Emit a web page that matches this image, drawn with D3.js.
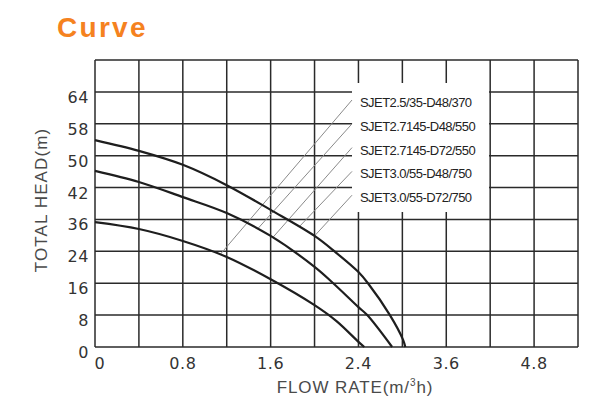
<!DOCTYPE html>
<html>
<head>
<meta charset="utf-8">
<script src="https://cdn.jsdelivr.net/npm/d3@7"></script>
<style>
  body { margin: 0; background: #fff; }
  text { font-family: "Liberation Sans", Arial, sans-serif; }
  text.ytick, text.xtick { font-family: "DejaVu Sans", sans-serif; }
</style>
</head>
<body>
<div id="chart"></div>
<script>
// tick labels (axes are not linear, each label sits on its own grid line)
var xTickLabels = [0, 0.8, 1.6, 2.4, 3.6, 4.8];
var yTickLabels = [0, 8, 16, 24, 36, 42, 50, 58, 64];

var models = ["SJET2.5/35-D48/370", "SJET2.7145-D48/550", "SJET2.7145-D72/550",
              "SJET3.0/55-D48/750", "SJET3.0/55-D72/750"];

// curves: [flow m3/h, head m]
var curveTop = [[0, 53.9], [0.4, 51.2], [0.8, 47.7], [1.2, 42.6], [1.6, 37.8], [2.0, 29.8],
                [2.19, 23.8], [2.4, 18.8], [2.53, 16], [2.83, 8], [3.01, 1.8], [3.04, 0]];
var curveMid = [[0, 46.2], [0.4, 43.4], [0.8, 40.2], [1.2, 37.2], [1.6, 29.8], [2.0, 20.1],
                [2.17, 16], [2.4, 10], [2.52, 8], [2.86, 0]];
var curveLow = [[0, 35], [0.4, 32.4], [0.8, 27.9], [1.2, 22.6], [1.6, 17], [2.0, 10.5],
                [2.2, 6.5], [2.4, 1.3], [2.48, 0]];
var curves = [curveTop, curveMid, curveLow];

// leader line of each model: which curve (index) and at what flow it leaves it
var leaderCurve = [2, 1, 1, 0, 0];
var leaderFlow = [1.14, 1.48, 1.62, 1.86, 2.0];

var width = 615, height = 412;
var gLeft = 95, gRight = 578, gTop = 60, gBottom = 347;
var nCols = 11, nRows = 9;

var gx = d3.scaleLinear().domain([0, nCols]).range([gLeft, gRight]);
var gy = d3.scaleLinear().domain([0, nRows]).range([gBottom, gTop]);

// piecewise scales: label i sits on grid line 2*i (x) / i (y)
var x = d3.scaleLinear()
    .domain(xTickLabels)
    .range(xTickLabels.map(function(d, i) { return gx(i * 2); }));
var y = d3.scaleLinear()
    .domain(yTickLabels)
    .range(yTickLabels.map(function(d, i) { return gy(i); }));

var svg = d3.select("#chart").append("svg")
    .attr("width", width)
    .attr("height", height);

svg.append("text")
    .attr("x", 57)
    .attr("y", 37)
    .attr("fill", "#f5821f")
    .attr("font-size", 28)
    .attr("font-weight", "bold")
    .attr("letter-spacing", 2.3)
    .text("Curve");

// grid
var grid = svg.append("g").attr("stroke", "#2a2a2a").attr("stroke-width", 1.5);
grid.selectAll(".vl")
    .data(d3.range(nCols + 1))
  .enter().append("line")
    .attr("class", "vl")
    .attr("x1", function(d) { return gx(d); })
    .attr("x2", function(d) { return gx(d); })
    .attr("y1", gTop)
    .attr("y2", gBottom);
grid.selectAll(".hl")
    .data(d3.range(nRows + 1))
  .enter().append("line")
    .attr("class", "hl")
    .attr("x1", gLeft)
    .attr("x2", gRight)
    .attr("y1", function(d) { return gy(d); })
    .attr("y2", function(d) { return gy(d); });

// white box behind the model names
svg.append("rect")
    .attr("x", 352)
    .attr("y", 83)
    .attr("width", 137)
    .attr("height", 129)
    .attr("fill", "#fff");

// y tick labels
svg.selectAll(".ytick")
    .data(yTickLabels)
  .enter().append("text")
    .attr("class", "ytick")
    .attr("x", 89)
    .attr("y", function(d) { return y(d) + 11; })
    .attr("text-anchor", "end")
    .attr("font-size", 16)
    .attr("letter-spacing", 0.6)
    .attr("fill", "#333")
    .text(function(d) { return d; });

// x tick labels
svg.selectAll(".xtick")
    .data(xTickLabels)
  .enter().append("text")
    .attr("class", "xtick")
    .attr("x", function(d, i) { return i == 0 ? x(d) + 5 : x(d); })
    .attr("y", 369)
    .attr("text-anchor", "middle")
    .attr("font-size", 16)
    .attr("letter-spacing", 0.6)
    .attr("fill", "#333")
    .text(function(d) { return d; });

// axis titles
svg.append("text")
    .attr("transform", "translate(47,200) rotate(-90)")
    .attr("text-anchor", "middle")
    .attr("font-size", 17)
    .attr("fill", "#4a4a4a")
    .attr("letter-spacing", 1.1)
    .text("TOTAL HEAD(m)");

var xt = svg.append("text")
    .attr("x", 355)
    .attr("y", 393)
    .attr("text-anchor", "middle")
    .attr("font-size", 17)
    .attr("fill", "#4a4a4a")
    .attr("letter-spacing", 0.9)
    .text("FLOW RATE(m/");
xt.append("tspan").attr("font-size", 10).attr("dy", -7).text("3");
xt.append("tspan").attr("dy", 7).text("h)");

// point on a curve (pixel space, linear between data points)
function onCurve(c, flow) {
  var px = x(flow);
  for (var i = 1; i < c.length; i++) {
    var x0 = x(c[i - 1][0]), x1 = x(c[i][0]);
    if (px <= x1) {
      var t = (px - x0) / (x1 - x0);
      return [px, y(c[i - 1][1]) + t * (y(c[i][1]) - y(c[i - 1][1]))];
    }
  }
  return [px, y(c[c.length - 1][1])];
}

// leader lines
var legendX = 360, legendY0 = 102, legendStep = 23.8;
svg.selectAll(".leader")
    .data(leaderFlow)
  .enter().append("line")
    .attr("class", "leader")
    .attr("x1", function(d, i) { return onCurve(curves[leaderCurve[i]], d)[0]; })
    .attr("y1", function(d, i) { return onCurve(curves[leaderCurve[i]], d)[1]; })
    .attr("x2", 352)
    .attr("y2", function(d, i) { return legendY0 + i * legendStep - 2; })
    .attr("stroke", "#8a8a8a")
    .attr("stroke-width", 1);

svg.selectAll(".model")
    .data(models)
  .enter().append("text")
    .attr("class", "model")
    .attr("x", legendX)
    .attr("y", function(d, i) { return legendY0 + i * legendStep + 5; })
    .attr("font-size", 13)
    .attr("letter-spacing", -0.55)
    .attr("fill", "#222")
    .text(function(d) { return d; });

// curves
var line = d3.line()
    .x(function(d) { return x(d[0]); })
    .y(function(d) { return y(d[1]); })
    .curve(d3.curveCatmullRom.alpha(0.5));

svg.selectAll(".curve")
    .data(curves)
  .enter().append("path")
    .attr("class", "curve")
    .attr("d", line)
    .attr("fill", "none")
    .attr("stroke", "#1e1e1e")
    .attr("stroke-width", 2.2);
</script>
</body>
</html>
